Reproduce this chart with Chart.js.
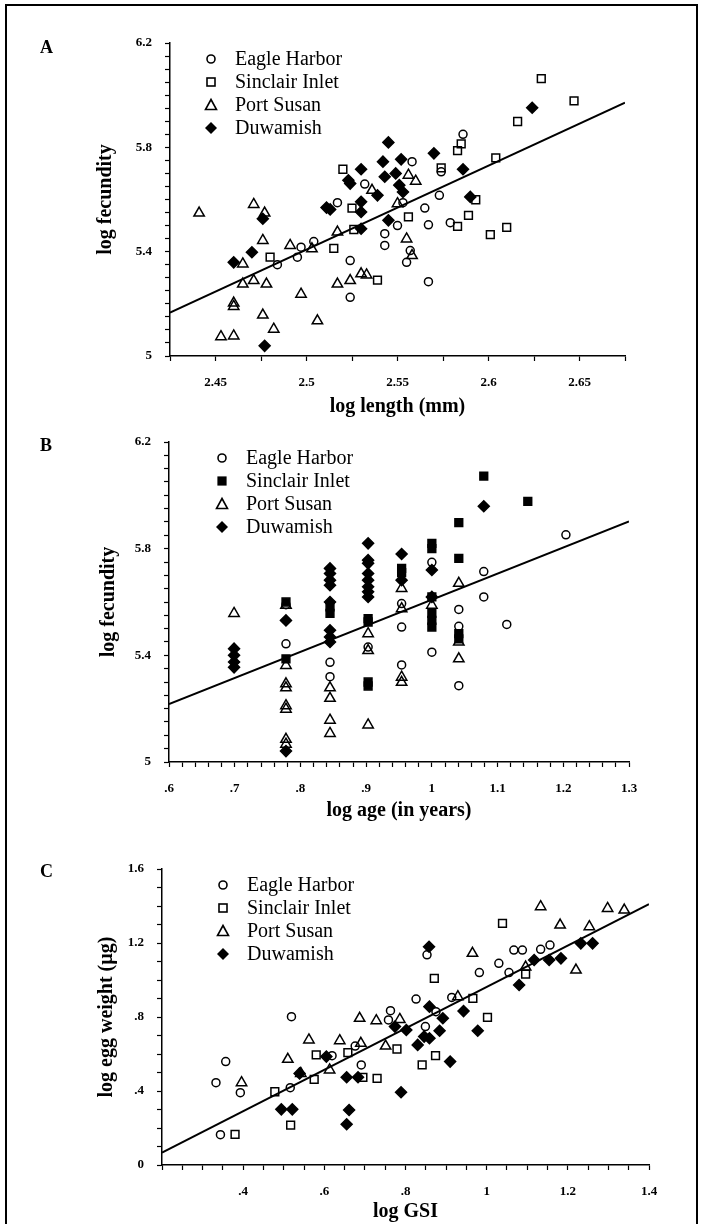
<!DOCTYPE html>
<html>
<head>
<meta charset="utf-8">
<script src="https://cdn.jsdelivr.net/npm/chart.js@4.4.1/dist/chart.umd.min.js"></script>
<style>
  html, body { margin: 0; padding: 0; background: #fff; }
  #page { position: relative; width: 702px; height: 1224px; overflow: hidden; font-family: "Liberation Serif", "Times New Roman", serif; color: #000; }
  .frame { position: absolute; left: 5px; top: 4px; width: 693px; height: 1240px; border: 2px solid #000; border-bottom: none; box-sizing: border-box; }
  .panel { position: absolute; left: 0; }
  .letter { position: absolute; font-weight: bold; font-size: 18px; line-height: 18px; }
  .legend { position: absolute; font-size: 20px; }
  .legend .row { display: flex; align-items: center; height: 23px; white-space: nowrap; }
  .legend svg { flex: none; }
</style>
</head>
<body>
<div id="page">
  <div class="frame"></div>
  <canvas id="chart-a" class="panel" width="702" height="420" style="top:0"></canvas>
  <canvas id="chart-b" class="panel" width="702" height="430" style="top:400px"></canvas>
  <canvas id="chart-c" class="panel" width="702" height="394" style="top:830px"></canvas>
  <div class="letter" style="left:40px;top:38px">A</div>
  <div class="letter" style="left:40px;top:436px">B</div>
  <div class="letter" style="left:40px;top:862px">C</div>
  <div class="legend" id="legend-a" style="left:203px;top:47px"></div>
  <div class="legend" id="legend-b" style="left:214px;top:446px"></div>
  <div class="legend" id="legend-c" style="left:215px;top:873px"></div>
</div>
<script>
'use strict';

const SERIF = '"Liberation Serif", "Times New Roman", serif';
const SITES = ['Eagle Harbor', 'Sinclair Inlet', 'Port Susan', 'Duwamish'];

// A: log length (mm) vs log fecundity
const aEagleLen = [2.586, 2.558, 2.532, 2.517, 2.573, 2.574, 2.553, 2.565, 2.567, 2.55, 2.579, 2.543, 2.543, 2.557, 2.555, 2.524, 2.524, 2.567, 2.504, 2.497, 2.495, 2.484];
const aEagleFec = [5.85, 5.745, 5.659, 5.588, 5.616, 5.706, 5.588, 5.567, 5.503, 5.5, 5.511, 5.469, 5.424, 5.404, 5.359, 5.366, 5.225, 5.285, 5.439, 5.417, 5.379, 5.35];
const aSinclairLen = [2.629, 2.647, 2.616, 2.604, 2.583, 2.585, 2.574, 2.52, 2.525, 2.556, 2.589, 2.583, 2.61, 2.601, 2.593, 2.526, 2.515, 2.48, 2.539];
const aSinclairFec = [6.063, 5.978, 5.899, 5.76, 5.787, 5.813, 5.721, 5.716, 5.567, 5.533, 5.539, 5.497, 5.493, 5.465, 5.599, 5.485, 5.413, 5.379, 5.291];
const aSusanLen = [2.441, 2.471, 2.477, 2.476, 2.465, 2.46, 2.46, 2.453, 2.46, 2.465, 2.471, 2.478, 2.476, 2.482, 2.497, 2.506, 2.491, 2.503, 2.517, 2.517, 2.524, 2.53, 2.533, 2.536, 2.55, 2.555, 2.558, 2.56, 2.556];
const aSusanFec = [5.548, 5.581, 5.548, 5.443, 5.353, 5.203, 5.19, 5.074, 5.077, 5.276, 5.289, 5.276, 5.157, 5.103, 5.237, 5.135, 5.424, 5.411, 5.475, 5.276, 5.289, 5.315, 5.311, 5.635, 5.584, 5.449, 5.385, 5.67, 5.693];
const aDuwLen = [2.624, 2.545, 2.57, 2.542, 2.552, 2.53, 2.586, 2.543, 2.549, 2.523, 2.524, 2.551, 2.553, 2.539, 2.53, 2.53, 2.511, 2.513, 2.59, 2.545, 2.53, 2.476, 2.47, 2.46, 2.477];
const aDuwFec = [5.952, 5.819, 5.777, 5.745, 5.754, 5.716, 5.716, 5.687, 5.7, 5.674, 5.661, 5.655, 5.629, 5.616, 5.591, 5.552, 5.569, 5.562, 5.61, 5.52, 5.488, 5.526, 5.398, 5.359, 5.039];
const aFitX = [2.425, 2.675];
const aFitY = [5.166, 5.971];

// B: log age (years) vs log fecundity
const bEagleAge = [0.778, 0.778, 0.845, 0.845, 0.903, 0.954, 0.954, 0.954, 1.0, 1.0, 1.041, 1.041, 1.041, 1.079, 1.079, 1.114, 1.204];
const bEagleFec = [5.59, 5.443, 5.374, 5.32, 5.431, 5.594, 5.506, 5.364, 5.749, 5.412, 5.572, 5.509, 5.286, 5.714, 5.619, 5.516, 5.852];
const bSinclairAge = [0.778, 0.778, 0.845, 0.845, 0.903, 0.903, 0.903, 0.903, 0.954, 0.954, 1.0, 1.0, 1.0, 1.0, 1.0, 1.0, 1.041, 1.041, 1.041, 1.041, 1.079, 1.146];
const bSinclairFec = [5.6, 5.387, 5.582, 5.557, 5.538, 5.525, 5.3, 5.285, 5.726, 5.71, 5.82, 5.8, 5.619, 5.557, 5.531, 5.506, 5.898, 5.764, 5.481, 5.462, 6.072, 5.977];
const bSusanAge = [0.699, 0.778, 0.778, 0.778, 0.778, 0.778, 0.778, 0.778, 0.778, 0.845, 0.845, 0.845, 0.845, 0.903, 0.903, 0.903, 0.954, 0.954, 0.954, 0.954, 1.0, 1.041, 1.041, 1.041];
const bSusanFec = [5.557, 5.588, 5.362, 5.293, 5.278, 5.211, 5.198, 5.085, 5.067, 5.278, 5.239, 5.157, 5.107, 5.481, 5.418, 5.139, 5.651, 5.575, 5.318, 5.299, 5.588, 5.67, 5.45, 5.387];
const bDuwAge = [0.699, 0.699, 0.699, 0.699, 0.778, 0.778, 0.845, 0.845, 0.845, 0.845, 0.845, 0.845, 0.845, 0.845, 0.903, 0.903, 0.903, 0.903, 0.903, 0.903, 0.903, 0.903, 0.954, 0.954, 1.0, 1.0, 1.079];
const bDuwFec = [5.425, 5.4, 5.375, 5.355, 5.531, 5.041, 5.726, 5.707, 5.682, 5.663, 5.6, 5.494, 5.469, 5.45, 5.82, 5.757, 5.745, 5.707, 5.682, 5.657, 5.638, 5.619, 5.78, 5.682, 5.72, 5.619, 5.959];
const bFitX = [0.6, 1.3];
const bFitY = [5.217, 5.902];

// C: log GSI vs log egg weight (ug)
const cEagleGsi = [0.333, 0.357, 0.344, 0.393, 0.519, 0.516, 0.619, 0.676, 0.691, 0.763, 0.758, 0.826, 0.849, 0.914, 0.982, 1.03, 0.875, 0.853, 1.067, 1.088, 1.133, 1.156, 1.055];
const cEagleEgg = [0.445, 0.559, 0.164, 0.391, 0.802, 0.418, 0.591, 0.643, 0.541, 0.834, 0.784, 0.897, 0.748, 0.906, 1.04, 1.09, 0.829, 1.136, 1.162, 1.162, 1.166, 1.189, 1.04];
const cSinclairGsi = [0.38, 0.517, 0.478, 0.575, 0.58, 0.658, 0.695, 0.73, 0.779, 0.841, 0.874, 0.871, 0.966, 1.002, 1.039, 1.096];
const cSinclairEgg = [0.166, 0.216, 0.396, 0.463, 0.595, 0.607, 0.474, 0.468, 0.627, 0.541, 0.591, 1.009, 0.901, 0.798, 1.306, 1.032];
const cSusanGsi = [0.396, 0.51, 0.542, 0.562, 0.613, 0.638, 0.69, 0.687, 0.728, 0.751, 0.786, 0.929, 0.965, 1.133, 1.181, 1.253, 1.298, 1.339, 1.22, 1.096];
const cSusanEgg = [0.445, 0.571, 0.495, 0.676, 0.514, 0.672, 0.658, 0.793, 0.78, 0.643, 0.787, 0.91, 1.144, 1.396, 1.297, 1.288, 1.387, 1.378, 1.054, 1.07];
const cDuwGsi = [0.494, 0.521, 0.539, 0.605, 0.655, 0.683, 0.655, 0.661, 0.774, 0.802, 0.83, 0.846, 0.859, 0.859, 0.884, 0.892, 0.789, 0.91, 0.943, 0.978, 0.858, 1.117, 1.154, 1.183, 1.232, 1.261, 1.08];
const cDuwEgg = [0.301, 0.301, 0.495, 0.586, 0.474, 0.474, 0.22, 0.297, 0.748, 0.73, 0.649, 0.694, 0.856, 0.685, 0.726, 0.793, 0.393, 0.559, 0.832, 0.726, 1.18, 1.108, 1.108, 1.117, 1.198, 1.198, 0.973];
const cFitX = [0.2, 1.4];
const cFitY = [0.067, 1.41];

const CLEAR = 'rgba(0,0,0,0)';
const MARKERS = {
  circle: { pointStyle: 'circle', pointRadius: 4, backgroundColor: CLEAR },
  square: { pointStyle: 'rect', pointRadius: 5.5, backgroundColor: CLEAR },
  squareFilled: { pointStyle: 'rect', pointRadius: 5.5, backgroundColor: '#000' },
  triangle: { pointStyle: 'triangle', pointRadius: 6, backgroundColor: CLEAR },
  diamond: { pointStyle: 'rectRot', pointRadius: 5.5, backgroundColor: '#000' },
};

function pts(xs, ys) {
  return xs.map((x, i) => ({ x, y: ys[i] }));
}

function markerSet(label, xs, ys, marker) {
  const m = MARKERS[marker];
  return {
    label,
    data: pts(xs, ys),
    pointStyle: m.pointStyle,
    pointRadius: m.pointRadius,
    pointBackgroundColor: m.backgroundColor,
    pointBorderColor: '#000',
    pointBorderWidth: 1.5,
    showLine: false,
  };
}

function fitLine(xs, ys) {
  return { type: 'line', data: pts(xs, ys), borderColor: '#000', borderWidth: 2, pointRadius: 0, fill: false };
}

function fmtTick(v) {
  const s = String(Math.round(v * 1000) / 1000);
  return s.startsWith('0.') ? s.slice(1) : s;
}

// true when v sits on the label grid that starts at base
function onLabelGrid(v, base, every) {
  const q = (v - base) / every;
  return Math.abs(q - Math.round(q)) < 1e-6;
}

function linearAxis(o) {
  const base = o.labelBase ?? 0;
  return {
    type: 'linear',
    position: o.position,
    min: o.min,
    max: o.max,
    border: { color: '#000', width: 1.5 },
    grid: { drawOnChartArea: false, drawTicks: true, tickLength: 5, tickColor: '#000', tickWidth: 1.2 },
    ticks: {
      stepSize: o.step,
      autoSkip: false,
      maxRotation: 0,
      minRotation: 0,
      padding: o.pad,
      color: '#000',
      font: { family: SERIF, size: 13, weight: 'bold' },
      callback: v => {
        if (o.skipMin && Math.abs(v - o.min) < 1e-9) return '';
        return onLabelGrid(v, base, o.labelEvery) ? fmtTick(v) : '';
      },
    },
    title: { display: true, text: o.title, color: '#000', padding: 0, font: { family: SERIF, size: 20, weight: 'bold', lineHeight: 1 } },
    afterFit: scale => {
      if (o.position === 'left') scale.width = o.size;
      else scale.height = o.size;
    },
  };
}

function makePanel(id, datasets, xAxis, yAxis, padding) {
  return new Chart(document.getElementById(id), {
    type: 'scatter',
    data: { datasets },
    options: {
      responsive: false,
      animation: false,
      devicePixelRatio: 1,
      events: [],
      layout: { padding },
      plugins: { legend: { display: false }, tooltip: { enabled: false } },
      scales: { x: xAxis, y: yAxis },
    },
  });
}

function legendIcon(marker) {
  const shapes = {
    circle: '<circle cx="8" cy="8" r="4" fill="none" stroke="#000" stroke-width="1.6"/>',
    square: '<rect x="4" y="4" width="8" height="8" fill="none" stroke="#000" stroke-width="1.6"/>',
    squareFilled: '<rect x="4" y="4" width="8" height="8" fill="#000" stroke="#000" stroke-width="1.2"/>',
    triangle: '<polygon points="8,2.5 13.5,12.5 2.5,12.5" fill="none" stroke="#000" stroke-width="1.6"/>',
    diamond: '<polygon points="8,2 14,8 8,14 2,8" fill="#000"/>',
  };
  return `<svg width="16" height="16" viewBox="0 0 16 16">${shapes[marker]}</svg>`;
}

function renderLegend(id, markers) {
  document.getElementById(id).innerHTML = SITES.map((name, i) => `
    <div class="row">${legendIcon(markers[i])}<span style="margin-left:16px">${name}</span></div>`).join('');
}

makePanel('chart-a', [
  markerSet(SITES[0], aEagleLen, aEagleFec, 'circle'),
  markerSet(SITES[1], aSinclairLen, aSinclairFec, 'square'),
  markerSet(SITES[2], aSusanLen, aSusanFec, 'triangle'),
  markerSet(SITES[3], aDuwLen, aDuwFec, 'diamond'),
  fitLine(aFitX, aFitY),
],
  linearAxis({ position: 'bottom', min: 2.425, max: 2.675, step: 0.025, labelEvery: 0.05, skipMin: true, pad: 14, size: 61, title: 'log length (mm)' }),
  linearAxis({ position: 'left', min: 5, max: 6.2, step: 0.05, labelEvery: 0.4, labelBase: 5, pad: 13, size: 74, title: 'log fecundity' }),
  { left: 96, right: 77, top: 43, bottom: 3 });

makePanel('chart-b', [
  markerSet(SITES[0], bEagleAge, bEagleFec, 'circle'),
  markerSet(SITES[1], bSinclairAge, bSinclairFec, 'squareFilled'),
  markerSet(SITES[2], bSusanAge, bSusanFec, 'triangle'),
  markerSet(SITES[3], bDuwAge, bDuwFec, 'diamond'),
  fitLine(bFitX, bFitY),
],
  linearAxis({ position: 'bottom', min: 0.6, max: 1.3, step: 0.02, labelEvery: 0.1, pad: 14, size: 59, title: 'log age (in years)' }),
  linearAxis({ position: 'left', min: 5, max: 6.2, step: 0.05, labelEvery: 0.4, labelBase: 5, pad: 13, size: 70, title: 'log fecundity' }),
  { left: 99, right: 73, top: 42, bottom: 9 });

makePanel('chart-c', [
  markerSet(SITES[0], cEagleGsi, cEagleEgg, 'circle'),
  markerSet(SITES[1], cSinclairGsi, cSinclairEgg, 'square'),
  markerSet(SITES[2], cSusanGsi, cSusanEgg, 'triangle'),
  markerSet(SITES[3], cDuwGsi, cDuwEgg, 'diamond'),
  fitLine(cFitX, cFitY),
],
  linearAxis({ position: 'bottom', min: 0.2, max: 1.4, step: 0.05, labelEvery: 0.2, skipMin: true, pad: 14, size: 57, title: 'log GSI' }),
  linearAxis({ position: 'left', min: 0, max: 1.6, step: 0.1, labelEvery: 0.4, pad: 13, size: 65, title: 'log egg weight (\u00b5g)' }),
  { left: 97, right: 53, top: 39, bottom: 2 });

renderLegend('legend-a', ['circle', 'square', 'triangle', 'diamond']);
renderLegend('legend-b', ['circle', 'squareFilled', 'triangle', 'diamond']);
renderLegend('legend-c', ['circle', 'square', 'triangle', 'diamond']);
</script>
</body>
</html>
